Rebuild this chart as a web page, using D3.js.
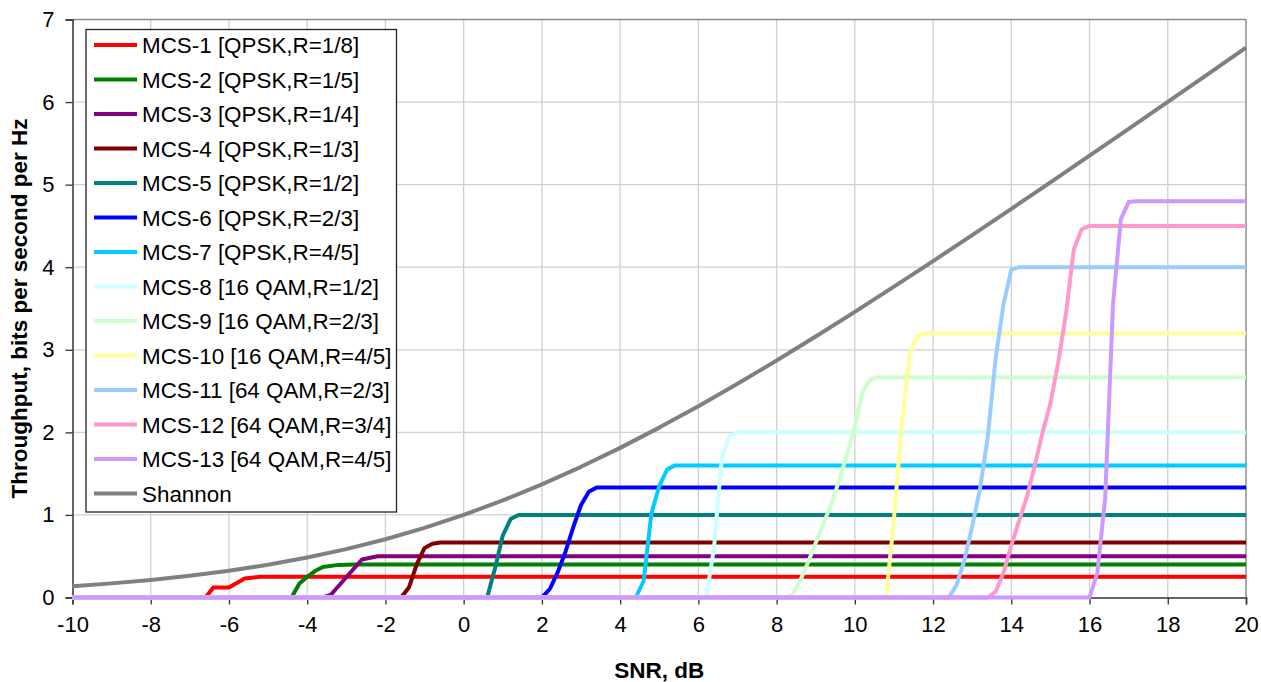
<!DOCTYPE html>
<html>
<head>
<meta charset="utf-8">
<script src="https://cdn.jsdelivr.net/npm/d3@7"></script>
<style>
  html, body { margin: 0; padding: 0; background: #fff; }
  svg { display: block; font-family: "Liberation Sans", Arial, sans-serif; }
</style>
</head>
<body>
<svg id="chart" width="1261" height="682"></svg>
<script>
// ---- data ----
const seriesNames = [
  "MCS-1 [QPSK,R=1/8]", "MCS-2 [QPSK,R=1/5]", "MCS-3 [QPSK,R=1/4]", "MCS-4 [QPSK,R=1/3]",
  "MCS-5 [QPSK,R=1/2]", "MCS-6 [QPSK,R=2/3]", "MCS-7 [QPSK,R=4/5]", "MCS-8 [16 QAM,R=1/2]",
  "MCS-9 [16 QAM,R=2/3]", "MCS-10 [16 QAM,R=4/5]", "MCS-11 [64 QAM,R=2/3]", "MCS-12 [64 QAM,R=3/4]",
  "MCS-13 [64 QAM,R=4/5]", "Shannon"
];
const mcs1 = [[-10,0],[-6.6,0],[-6.4,0.12],[-6.0,0.12],[-5.6,0.23],[-5.2,0.25],[20,0.25]];
const mcs2 = [[-10,0],[-4.4,0],[-4.2,0.17],[-4.0,0.25],[-3.8,0.32],[-3.6,0.37],[-3.2,0.395],[-2.8,0.4],[20,0.4]];
const mcs3 = [[-10,0],[-3.6,0],[-3.4,0.03],[-2.6,0.46],[-2.2,0.5],[20,0.5]];
const mcs4 = [[-10,0],[-1.6,0],[-1.4,0.12],[-1.2,0.4],[-1.0,0.6],[-0.8,0.65],[-0.6,0.667],[20,0.667]];
const mcs5 = [[-10,0],[0.6,0],[0.8,0.35],[1.0,0.75],[1.2,0.95],[1.4,1.0],[20,1.0]];
const mcs6 = [[-10,0],[2.0,0],[2.2,0.1],[2.4,0.3],[2.6,0.55],[2.8,0.85],[3.0,1.12],[3.2,1.28],[3.4,1.333],[20,1.333]];
const mcs7 = [[-10,0],[4.4,0],[4.6,0.2],[4.8,1.02],[5.0,1.35],[5.2,1.55],[5.4,1.6],[20,1.6]];
const mcs8 = [[-10,0],[6.2,0],[6.4,0.6],[6.6,1.7],[6.8,1.96],[7.0,2.0],[20,2.0]];
const mcs9 = [[-10,0],[8.2,0],[8.4,0.03],[8.6,0.2],[8.8,0.42],[9.0,0.66],[9.2,0.9],[9.4,1.13],[9.6,1.42],[9.8,1.73],[10.0,2.08],[10.2,2.5],[10.4,2.64],[10.6,2.667],[20,2.667]];
const mcs10 = [[-10,0],[10.8,0],[11.0,0.95],[11.2,2.1],[11.4,2.95],[11.6,3.17],[11.8,3.2],[20,3.2]];
const mcs11 = [[-10,0],[12.4,0],[12.6,0.15],[12.8,0.45],[13.0,0.86],[13.2,1.32],[13.4,1.95],[13.6,2.9],[13.8,3.55],[14.0,3.97],[14.2,4.0],[20,4.0]];
const mcs12 = [[-10,0],[13.4,0],[13.6,0.07],[13.8,0.3],[14.0,0.63],[14.2,0.93],[14.4,1.22],[14.6,1.6],[14.8,2.0],[15.0,2.35],[15.2,2.85],[15.4,3.45],[15.6,4.22],[15.8,4.46],[16.0,4.5],[20,4.5]];
const mcs13 = [[-10,0],[16.0,0],[16.2,0.3],[16.4,1.2],[16.6,3.55],[16.8,4.58],[17.0,4.79],[17.2,4.8],[20,4.8]];
const shannonSnr = [-10,-9,-8,-7,-6,-5,-4,-3,-2,-1,0,1,2,3,4,5,6,7,8,9,10,11,12,13,14,15,16,17,18,19,20];
const shannonVal = [0.1375,0.1711,0.2122,0.2625,0.3233,0.3963,0.4835,0.5861,0.7057,0.8434,1.0,1.1756,1.3701,1.5827,1.8122,2.0574,2.3165,2.5878,2.8698,3.1608,3.4594,3.7644,4.0746,4.3891,4.7070,5.0278,5.3509,5.6758,6.0022,6.3297,6.6582];
const xTicks = [-10,-8,-6,-4,-2,0,2,4,6,8,10,12,14,16,18,20];
const yTicks = [0,1,2,3,4,5,6,7];

// ---- styles ----
const colors = ["#FF0000","#008000","#800080","#800000","#008080","#0000FF","#00CCFF",
                "#CCFFFF","#CCFFCC","#FFFF99","#99CCFF","#FF99CC","#CC99FF","#808080"];

const shannon = shannonSnr.map((s, i) => [s, shannonVal[i]]);
const allSeries = [mcs1,mcs2,mcs3,mcs4,mcs5,mcs6,mcs7,mcs8,mcs9,mcs10,mcs11,mcs12,mcs13,shannon];

const svg = d3.select("#chart");
const L = 72.5, R = 1246, T = 19.5, B = 597.5;
const x = d3.scaleLinear().domain([-10, 20]).range([L, R]);
const y = d3.scaleLinear().domain([0, 7]).range([B, T]);

// gridlines
const grid = svg.append("g");
grid.selectAll("line.h").data(yTicks.filter(v => v > 0 && v < 7)).join("line")
  .attr("x1", L).attr("x2", R).attr("y1", d => y(d)).attr("y2", d => y(d))
  .attr("stroke", "#d0d0d0").attr("stroke-width", 1.3);
grid.selectAll("line.v").data(xTicks.filter(v => v > -10 && v < 20)).join("line")
  .attr("y1", T).attr("y2", B).attr("x1", d => x(d)).attr("x2", d => x(d))
  .attr("stroke", "#d0d0d0").attr("stroke-width", 1.3);

// plot frame (top / right)
svg.append("line").attr("x1", L).attr("x2", R).attr("y1", T).attr("y2", T)
  .attr("stroke", "#8c8c8c").attr("stroke-width", 1.5);
svg.append("line").attr("x1", R).attr("x2", R).attr("y1", T).attr("y2", B)
  .attr("stroke", "#8c8c8c").attr("stroke-width", 1.5);

// axes
const xAxis = svg.append("g").attr("transform", `translate(0,${B})`)
  .call(d3.axisBottom(x).tickValues(xTicks).tickSize(7).tickPadding(12).tickFormat(d => d));
const yAxis = svg.append("g").attr("transform", `translate(${L},0)`)
  .call(d3.axisLeft(y).tickValues(yTicks).tickSize(7).tickPadding(11).tickFormat(d => d));
[xAxis, yAxis].forEach(a => {
  a.select(".domain").attr("stroke", "#333").attr("stroke-width", 1.5);
  a.selectAll(".tick line").attr("stroke", "#333").attr("stroke-width", 1.3);
  a.selectAll(".tick text").attr("fill", "#000").style("font-size", "22px")
    .style("font-family", "'Liberation Sans', Arial, sans-serif");
});

// series lines
const line = d3.line().x(d => x(d[0])).y(d => y(d[1]));
svg.append("g").selectAll("path").data(allSeries).join("path")
  .attr("d", line)
  .attr("fill", "none")
  .attr("stroke", (d, i) => colors[i])
  .attr("stroke-width", 4)
  .attr("stroke-linejoin", "round");

// axis titles
svg.append("text").attr("x", (L + R) / 2).attr("y", 678).attr("text-anchor", "middle")
  .style("font-size", "22.5px").style("font-weight", "bold").text("SNR, dB");
svg.append("text").attr("transform", `translate(27,${(T + B) / 2}) rotate(-90)`)
  .attr("text-anchor", "middle")
  .style("font-size", "22.5px").style("font-weight", "bold").text("Throughput, bits per second per Hz");

// legend
const lg = svg.append("g");
lg.append("rect").attr("x", 86).attr("y", 29.5).attr("width", 310.5).attr("height", 482.5)
  .attr("fill", "#fff").attr("stroke", "#222").attr("stroke-width", 1.3);
const rows = lg.selectAll("g.row").data(seriesNames).join("g")
  .attr("transform", (d, i) => `translate(0,${45 + i * 34.5})`);
rows.append("line").attr("x1", 94).attr("x2", 137).attr("y1", 0).attr("y2", 0)
  .attr("stroke", (d, i) => colors[i]).attr("stroke-width", 4);
rows.append("text").attr("x", 142).attr("y", 0).attr("dy", "0.36em")
  .style("font-size", "22.4px").text(d => d);
</script>
</body>
</html>
